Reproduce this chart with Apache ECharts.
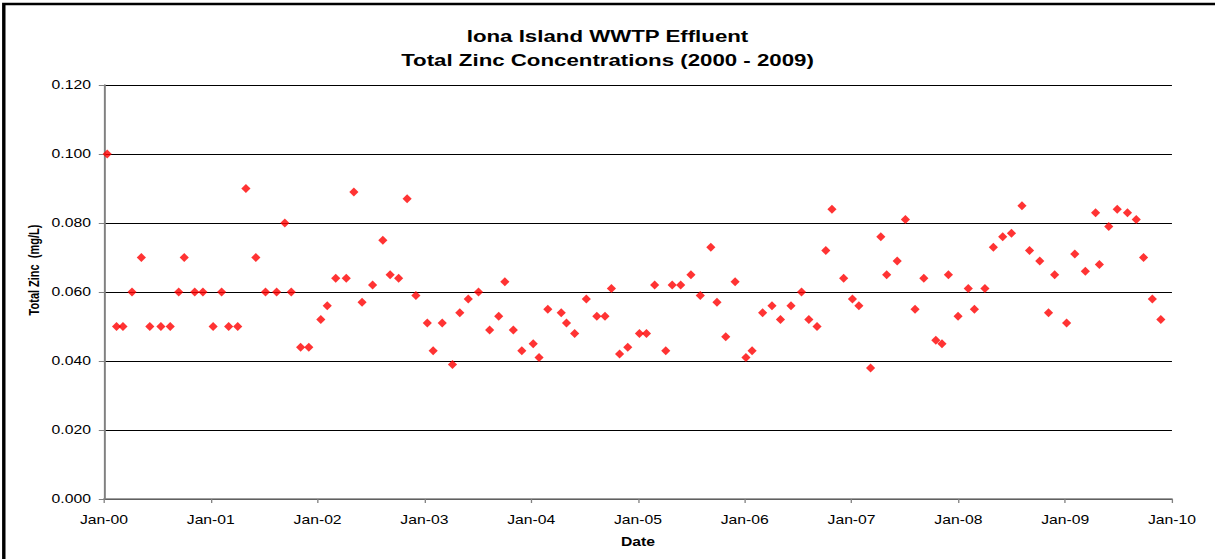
<!DOCTYPE html>
<html>
<head>
<meta charset="utf-8">
<script src="https://cdn.jsdelivr.net/npm/echarts@6/dist/echarts.min.js"></script>
<style>
  html, body { margin: 0; padding: 0; background: #fff; overflow: hidden; }
  #wrap { width: 1215px; height: 559px; overflow: hidden; position: relative; }
  /* the reference picture is horizontally stretched; draw narrower and stretch the same way */
  #chart { width: 927px; height: 559px; transform: scaleX(1.31068); transform-origin: 0 0; }
</style>
</head>
<body>
<div id="wrap"><div id="chart"></div></div>
<script>
// Sample dates (YYYY-MM-DD) and total zinc concentrations (mg/L)
const sampleDates = [
  '2000-01-12','2000-02-13','2000-03-06','2000-04-06','2000-05-08','2000-06-06','2000-07-14','2000-08-15','2000-09-13','2000-10-02','2000-11-07','2000-12-05',
  '2001-01-09','2001-02-07','2001-03-03','2001-04-03','2001-05-01','2001-06-04','2001-07-07','2001-08-14','2001-09-11','2001-10-03','2001-11-04','2001-12-02',
  '2002-01-12','2002-02-03','2002-03-04','2002-04-09','2002-05-05','2002-06-02','2002-07-08','2002-08-12','2002-09-06','2002-10-05','2002-11-03','2002-12-03',
  '2003-01-11','2003-01-31','2003-03-03','2003-04-07','2003-05-02','2003-05-31','2003-07-05','2003-08-12','2003-09-12','2003-10-03','2003-11-01','2003-11-30',
  '2004-01-08','2004-01-28','2004-02-27','2004-04-13','2004-05-01','2004-05-29','2004-07-08','2004-08-13','2004-09-10','2004-10-02','2004-10-30','2004-11-27',
  '2005-01-06','2005-01-30','2005-02-27','2005-04-06','2005-04-28','2005-05-27','2005-07-01','2005-08-02','2005-09-07','2005-09-28','2005-10-28','2005-11-29',
  '2006-01-05','2006-01-26','2006-03-03','2006-04-04','2006-05-03','2006-06-08','2006-07-14','2006-08-08','2006-09-05','2006-10-05','2006-10-26','2006-12-05',
  '2007-01-04','2007-01-26','2007-03-07','2007-04-11','2007-05-01','2007-06-06','2007-07-04','2007-08-06','2007-09-05','2007-10-16','2007-11-06','2007-11-28','2007-12-31',
  '2008-02-04','2008-02-25','2008-04-01','2008-04-30','2008-06-01','2008-07-01','2008-08-06','2008-09-01','2008-10-06','2008-11-05','2008-11-26',
  '2009-01-06','2009-02-03','2009-03-11','2009-04-15','2009-04-28','2009-05-30','2009-06-28','2009-08-02','2009-09-01','2009-09-26','2009-10-26','2009-11-24'
];
const zincValues = [
  0.100,0.050,0.050,0.060,0.070,0.050,0.050,0.050,0.060,0.070,0.060,0.060,
  0.050,0.060,0.050,0.050,0.090,0.070,0.060,0.060,0.080,0.060,0.044,0.044,
  0.052,0.056,0.064,0.064,0.089,0.057,0.062,0.075,0.065,0.064,0.087,0.059,
  0.051,0.043,0.051,0.039,0.054,0.058,0.060,0.049,0.053,0.063,0.049,0.043,
  0.045,0.041,0.055,0.054,0.051,0.048,0.058,0.053,0.053,0.061,0.042,0.044,
  0.048,0.048,0.062,0.043,0.062,0.062,0.065,0.059,0.073,0.057,0.047,0.063,
  0.041,0.043,0.054,0.056,0.052,0.056,0.060,0.052,0.050,0.072,0.084,0.064,
  0.058,0.056,0.038,0.076,0.065,0.069,0.081,0.055,0.064,0.046,0.045,0.065,0.053,
  0.061,0.055,0.061,0.073,0.076,0.077,0.085,0.072,0.069,0.054,0.065,
  0.051,0.071,0.066,0.083,0.068,0.079,0.084,0.083,0.081,0.070,0.058,0.052
];
const xTickYears = [2000, 2010];
const yTicks = [0, 0.12, 0.02];
const titleLines = ['Iona Island WWTP Effluent', 'Total Zinc Concentrations (2000 - 2009)'];
const xAxisTitle = 'Date';
const yAxisTitle = 'Total Zinc  (mg/L)';

function toDecimalYear(s) {
  const p = s.split('-').map(Number);
  const t = Date.UTC(p[0], p[1] - 1, p[2]);
  const a = Date.UTC(p[0], 0, 1), b = Date.UTC(p[0] + 1, 0, 1);
  return p[0] + (t - a) / (b - a);
}
const points = sampleDates.map((d, i) => [toDecimalYear(d), zincValues[i]]);

const FONT = 'Liberation Sans, Arial, sans-serif';
const chart = echarts.init(document.getElementById('chart'), null, { renderer: 'svg' });
chart.setOption({
  animation: false,
  backgroundColor: '#ffffff',
  title: {
    text: titleLines.join('\n'),
    left: 'center',
    top: 19,
    padding: [5, 5, 5, 12.6],
    textStyle: { fontFamily: FONT, fontSize: 17, fontWeight: 'bold', color: '#000', lineHeight: 24 }
  },
  graphic: [
    {
      type: 'rect', z: 100, silent: true,
      shape: { x: 2.9, y: 4, width: 1400, height: 800 },
      style: { fill: 'none', stroke: '#000', lineWidth: 2.6 }
    },
    {
      type: 'text', z: 50, silent: true,
      x: 25.7, y: 270, rotation: Math.PI / 2,
      style: {
        text: yAxisTitle, fontFamily: FONT, fontSize: 11, fontWeight: 'bold', fill: '#000',
        align: 'center', verticalAlign: 'middle'
      }
    }
  ],
  grid: { left: 79.35, top: 85, width: 814.8, height: 414, containLabel: false },
  xAxis: {
    type: 'value',
    min: xTickYears[0], max: xTickYears[1], interval: 1,
    name: xAxisTitle, nameLocation: 'middle', nameGap: 37,
    nameTextStyle: { fontFamily: FONT, fontSize: 12, fontWeight: 'bold', color: '#000' },
    axisLine: { show: true, onZero: false, lineStyle: { color: '#808080', width: 1.5 } },
    axisTick: { show: true, inside: false, length: 4, lineStyle: { color: '#808080', width: 1 } },
    axisLabel: {
      margin: 15, fontFamily: FONT, fontSize: 12, color: '#000',
      formatter: v => 'Jan-' + String(Math.round(v) % 100).padStart(2, '0')
    },
    splitLine: { show: false }
  },
  yAxis: {
    type: 'value',
    min: yTicks[0], max: yTicks[1], interval: yTicks[2],
    axisLine: { show: true, lineStyle: { color: '#808080', width: 1.5 } },
    axisTick: { show: true, inside: false, length: 4, lineStyle: { color: '#808080', width: 1 } },
    axisLabel: { margin: 10, fontFamily: FONT, fontSize: 12, color: '#000', formatter: v => v.toFixed(3) },
    splitLine: { show: true, lineStyle: { color: '#000', width: 1 } }
  },
  series: [{
    type: 'scatter',
    data: points,
    symbol: 'diamond',
    symbolSize: [7, 9],
    itemStyle: { color: '#ff0000' }
  }]
});
</script>
</body>
</html>
